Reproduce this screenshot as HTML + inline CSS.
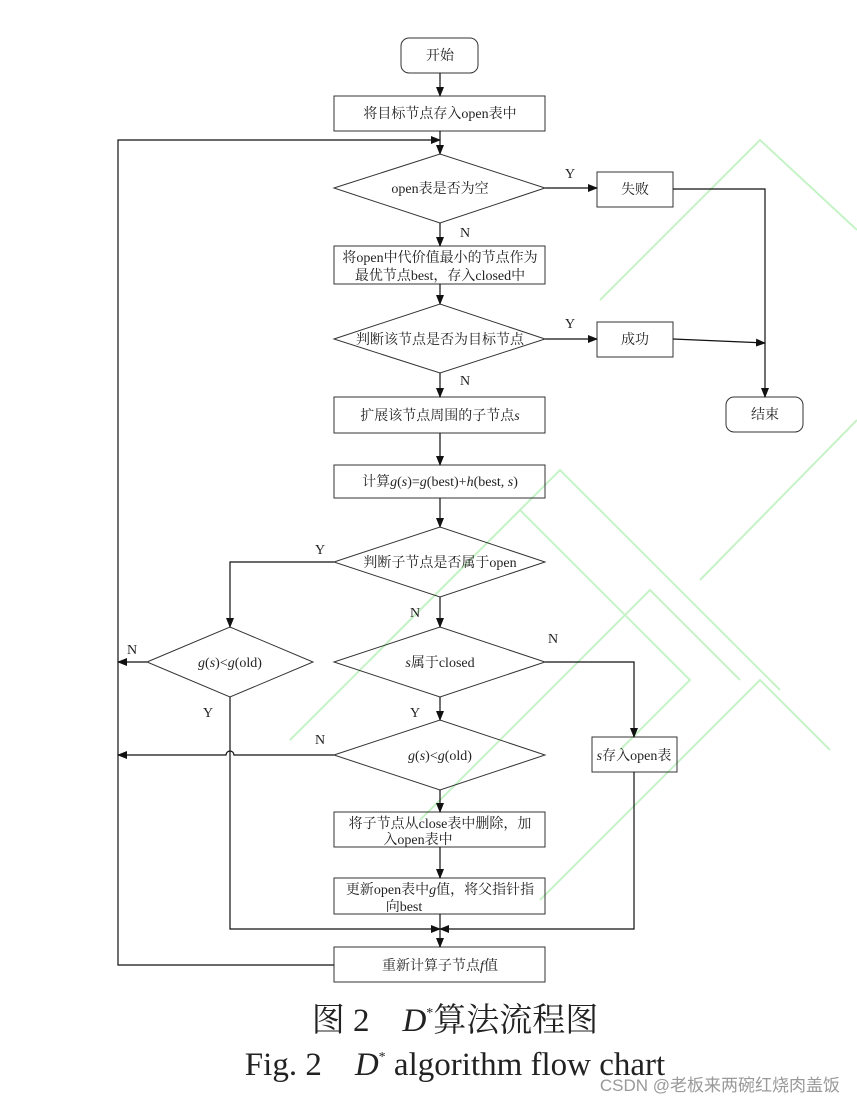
<!DOCTYPE html>
<html><head><meta charset="utf-8"><style>
body{margin:0;background:#fff;}
svg{display:block;}
text{font-family:"Liberation Serif","Noto Serif CJK SC",serif;fill:#222;}
</style></head><body>
<svg width="857" height="1104" viewBox="0 0 857 1104" xmlns="http://www.w3.org/2000/svg">
<defs><marker id="a" markerWidth="10" markerHeight="8" refX="9" refY="4" orient="auto" markerUnits="userSpaceOnUse"><path d="M0,0 L10,4 L0,8 z" fill="#111"/></marker></defs>
<g fill="none" stroke="#b8f0b8" stroke-width="2" opacity="0.8">
<path d="M290,740 L520,510 L690,680 L620,750"/>
<path d="M370,660 L560,470 L780,690"/>
<path d="M540,900 L760,680 L830,750"/>
<path d="M600,300 L760,140 L857,230"/>
<path d="M700,580 L857,420"/>
<path d="M420,820 L650,590 L740,680"/>
</g>
<g fill="none" stroke="#333" stroke-width="1">
<rect x="401" y="38" width="77" height="35" rx="8"/>
<rect x="334" y="96" width="211" height="35"/>
<polygon points="334,188 440,154 545,188 440,223"/>
<rect x="597" y="172" width="76" height="35"/>
<rect x="334" y="246" width="211" height="38"/>
<polygon points="334,339 440,304 545,339 440,373"/>
<rect x="597" y="322" width="76" height="35"/>
<rect x="726" y="397" width="77" height="35" rx="8"/>
<rect x="334" y="397" width="211" height="36"/>
<rect x="334" y="465" width="211" height="33"/>
<polygon points="334,562 440,527 545,562 440,597"/>
<polygon points="147,662 230,627 313,662 230,697"/>
<polygon points="334,662 440,627 545,662 440,697"/>
<polygon points="334,755 440,720 545,755 440,790"/>
<rect x="592" y="737" width="85" height="35"/>
<rect x="334" y="812" width="211" height="35"/>
<rect x="334" y="878" width="211" height="36"/>
<rect x="334" y="947" width="211" height="35"/>
</g>
<g fill="none" stroke="#111" stroke-width="1.2">
<path d="M440,73 V96" marker-end="url(#a)"/>
<path d="M440,131 V154" marker-end="url(#a)"/>
<path d="M440,223 V246" marker-end="url(#a)"/>
<path d="M440,284 V304" marker-end="url(#a)"/>
<path d="M440,373 V397" marker-end="url(#a)"/>
<path d="M440,433 V465" marker-end="url(#a)"/>
<path d="M440,498 V527" marker-end="url(#a)"/>
<path d="M440,597 V627" marker-end="url(#a)"/>
<path d="M440,697 V720" marker-end="url(#a)"/>
<path d="M440,790 V812" marker-end="url(#a)"/>
<path d="M440,847 V878" marker-end="url(#a)"/>
<path d="M440,914 V947" marker-end="url(#a)"/>
<path d="M545,188 H597" marker-end="url(#a)"/>
<path d="M545,339 H597" marker-end="url(#a)"/>
<path d="M673,189 H765 V397" marker-end="url(#a)"/>
<path d="M673,339 L765,343" marker-end="url(#a)"/>
<path d="M334,562 H230 V627" marker-end="url(#a)"/>
<path d="M147,662 H118" marker-end="url(#a)"/>
<path d="M545,662 H634 V737" marker-end="url(#a)"/>
<path d="M334,755 H234 A4,4 0 0 0 226,755 H118" marker-end="url(#a)"/>
<path d="M230,697 V929 H440" marker-end="url(#a)"/>
<path d="M634,772 V929 H440" marker-end="url(#a)"/>
<path d="M334,965 H118 V140 H440" marker-end="url(#a)"/>
</g>
<g font-size="14" text-anchor="middle">
<text x="440" y="60">开始</text>
<text x="440" y="118">将目标节点存入open表中</text>
<text x="440" y="193">open表是否为空</text>
<text x="635" y="194">失败</text>
<text x="440" y="262">将open中代价值最小的节点作为</text>
<text x="440" y="280">最优节点best，存入closed中</text>
<text x="440" y="344">判断该节点是否为目标节点</text>
<text x="635" y="344">成功</text>
<text x="765" y="419">结束</text>
<text x="440" y="420">扩展该节点周围的子节点<tspan font-style="italic">s</tspan></text>
<text x="440" y="486">计算<tspan font-style="italic">g</tspan>(<tspan font-style="italic">s</tspan>)=<tspan font-style="italic">g</tspan>(best)+<tspan font-style="italic">h</tspan>(best, <tspan font-style="italic">s</tspan>)</text>
<text x="440" y="567">判断子节点是否属于open</text>
<text x="230" y="667"><tspan font-style="italic">g</tspan>(<tspan font-style="italic">s</tspan>)&lt;<tspan font-style="italic">g</tspan>(old)</text>
<text x="440" y="667"><tspan font-style="italic">s</tspan>属于closed</text>
<text x="440" y="760"><tspan font-style="italic">g</tspan>(<tspan font-style="italic">s</tspan>)&lt;<tspan font-style="italic">g</tspan>(old)</text>
<text x="634" y="760"><tspan font-style="italic">s</tspan>存入open表</text>
<text x="440" y="828">将子节点从close表中删除，加</text>
<text x="418" y="844">入open表中</text>
<text x="440" y="894">更新open表中<tspan font-style="italic">g</tspan>值，将父指针指</text>
<text x="404" y="911">向best</text>
<text x="440" y="970">重新计算子节点<tspan font-style="italic">f</tspan>值</text>
<text x="570" y="178">Y</text>
<text x="465" y="237">N</text>
<text x="570" y="328">Y</text>
<text x="465" y="385">N</text>
<text x="320" y="554">Y</text>
<text x="415" y="617">N</text>
<text x="132" y="654">N</text>
<text x="553" y="643">N</text>
<text x="208" y="717">Y</text>
<text x="415" y="717">Y</text>
<text x="320" y="744">N</text>
</g>
<text x="455" y="1031" font-size="33" text-anchor="middle">图 2　<tspan font-style="italic">D</tspan><tspan font-size="14" dy="-14">*</tspan><tspan dy="14">算法流程图</tspan></text>
<text x="455" y="1075" font-size="33" text-anchor="middle">Fig. 2　<tspan font-style="italic">D</tspan><tspan font-size="14" dy="-14">*</tspan><tspan dy="14"> algorithm flow chart</tspan></text>
<text x="840" y="1091" font-size="17" text-anchor="end" style="font-family:'Liberation Sans','Noto Sans CJK SC',sans-serif;fill:#999">CSDN @老板来两碗红烧肉盖饭</text>
</svg>
</body></html>
